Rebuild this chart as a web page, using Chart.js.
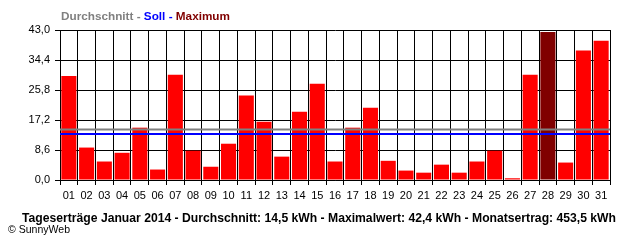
<!DOCTYPE html>
<html><head><meta charset="utf-8">
<script src="https://cdn.jsdelivr.net/npm/chart.js@4/dist/chart.umd.min.js"></script>
<style>
html,body{margin:0;padding:0;background:#fff;}
#wrap{position:relative;width:640px;height:240px;overflow:hidden;font-family:"Liberation Sans",Arial,sans-serif;}
canvas{position:absolute;left:0;top:0;}
.txt{position:absolute;white-space:nowrap;transform-origin:0 0;line-height:1;}
#legend{left:61px;top:11px;font-weight:bold;font-size:11px;}
#caption{left:22px;top:212px;font-weight:bold;font-size:12px;color:#000;}
#copy{left:8px;top:224px;font-size:11px;color:#000;}
</style></head><body>
<div id="wrap">
<canvas id="c" width="640" height="240"></canvas>
<div id="legend" class="txt"><span style="color:#808080">Durchschnitt - </span><span style="color:#0000ff">Soll - </span><span style="color:#800000">Maximum</span></div>
<div id="caption" class="txt">Tageserträge Januar 2014 - Durchschnitt: 14,5 kWh - Maximalwert: 42,4 kWh - Monatsertrag: 453,5 kWh</div>
<div id="copy" class="txt">© SunnyWeb</div>
</div>
<script>
const days = ['01','02','03','04','05','06','07','08','09','10','11','12','13','14','15','16','17','18','19','20','21','22','23','24','25','26','27','28','29','30','31'];
const dailyYield = [29.8,9.3,5.3,7.8,15.0,3.0,30.2,8.4,3.8,10.4,24.2,16.7,6.7,19.6,27.6,5.3,15.0,20.7,5.5,2.7,2.1,4.4,2.1,5.3,8.4,0.5,30.2,42.4,5.0,37.1,39.9];
const average = 14.5;
const target = 13.2;
const yTicks = [0, 8.6, 17.2, 25.8, 34.4, 43.0];

function fitWidth(id, w){
  const el = document.getElementById(id);
  const cw = el.getBoundingClientRect().width;
  el.style.transform = 'scaleX(' + (w / cw) + ')';
}
fitWidth('caption', 594);
fitWidth('legend', 169);
fitWidth('copy', 62);

const maxVal = Math.max(...dailyYield);
const colors = dailyYield.map(v => v === maxVal ? '#800000' : '#ff0000');
const font = {family: '"Liberation Sans", Arial, sans-serif', size: 11};

const refLines = {
  id: 'refLines',
  afterDatasetsDraw(chart){
    const {ctx, chartArea, scales} = chart;
    const lines = [[average, '#808080'], [target, '#0000ff']];
    ctx.save();
    lines.forEach(([v, c]) => {
      const y = scales.y.getPixelForValue(v);
      ctx.strokeStyle = c; ctx.lineWidth = 2;
      ctx.beginPath(); ctx.moveTo(chartArea.left, y); ctx.lineTo(chartArea.right, y); ctx.stroke();
    });
    ctx.restore();
  }
};

new Chart(document.getElementById('c'), {
  type: 'bar',
  data: {labels: days, datasets: [{data: dailyYield, backgroundColor: colors, borderWidth: 0, barPercentage: 0.85, categoryPercentage: 1}]},
  options: {
    responsive: false, animation: false, devicePixelRatio: 1,
    layout: {padding: {top: 30, right: 30, left: 0, bottom: 0}},
    plugins: {legend: {display: false}, tooltip: {enabled: false}, title: {display: false}},
    scales: {
      x: {
        grid: {color: '#000', lineWidth: 1, tickLength: 5, offset: true},
        border: {color: '#000', width: 1},
        ticks: {color: '#000', font: font, padding: 4, maxRotation: 0, autoSkip: false},
        afterFit(s){ s.height = 60; }
      },
      y: {
        min: 0, max: 43,
        grid: {color: '#000', lineWidth: 1, tickLength: 5},
        border: {color: '#000', width: 1},
        ticks: {color: '#000', font: font, padding: 5, callback: v => Number(v).toFixed(1).replace('.', ',')},
        afterBuildTicks(s){ s.ticks = yTicks.map(v => ({value: v})); },
        afterFit(s){ s.width = 60; }
      }
    }
  },
  plugins: [refLines]
});
</script>
</body></html>
